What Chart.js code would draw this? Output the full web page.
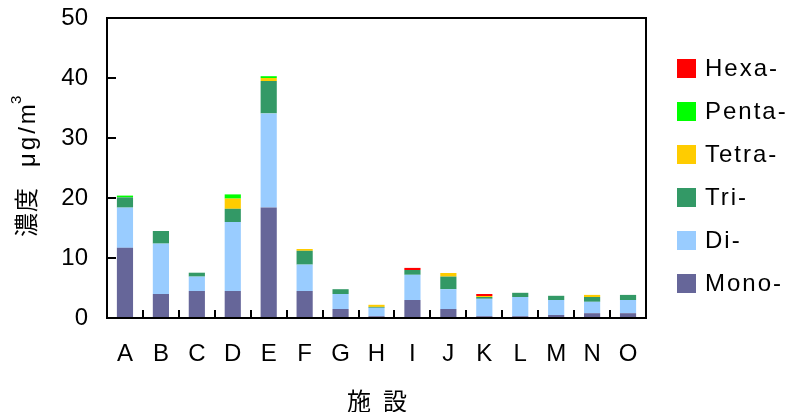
<!DOCTYPE html>
<html>
<head>
<meta charset="utf-8">
<script src="https://cdn.jsdelivr.net/npm/chart.js"></script>
<style>
  html, body { margin: 0; padding: 0; background: #fff; }
  #chart { display: block; }
</style>
</head>
<body>
<canvas id="chart" width="801" height="412"></canvas>
<script>
const categories = ["A", "B", "C", "D", "E", "F", "G", "H", "I", "J", "K", "L", "M", "N", "O"];
const yTicks = [0, 10, 20, 30, 40, 50];

const mono  = [11.7, 4.0, 4.5, 4.5, 18.4, 4.5, 1.5, 0.3, 3.0, 1.5, 0.3, 0.3, 0.5, 0.8, 0.8];
const di    = [6.7, 8.4, 2.4, 11.5, 15.7, 4.4, 2.5, 1.4, 4.2, 3.3, 2.9, 3.2, 2.5, 1.9, 2.2];
const tri   = [1.7, 2.1, 0.65, 2.2, 5.4, 2.3, 0.8, 0.15, 0.8, 2.1, 0.3, 0.7, 0.7, 0.8, 0.85];
const tetra = [0, 0, 0, 1.7, 0.5, 0.3, 0, 0.35, 0, 0.6, 0.17, 0, 0, 0.35, 0];
const penta = [0.3, 0, 0, 0.7, 0.3, 0, 0, 0, 0, 0, 0, 0, 0, 0, 0];
const hexa  = [0, 0, 0, 0, 0, 0, 0, 0, 0.35, 0, 0.33, 0, 0, 0, 0];

const seriesNames = ["Mono-", "Di-", "Tri-", "Tetra-", "Penta-", "Hexa-"];
const seriesColors = ["#666699", "#99CCFF", "#339966", "#FFCC00", "#00FF00", "#FF0000"];
const seriesData = [mono, di, tri, tetra, penta, hexa];

const FONT = "'Liberation Sans', Arial, sans-serif";
const CJK = "'Noto Sans CJK JP', 'Noto Sans CJK SC', sans-serif";

// frame, inward ticks, axis titles and legend
const decorPlugin = {
  id: "decor",
  afterDraw(chart) {
    const ctx = chart.ctx;
    const a = chart.chartArea;
    const x = chart.scales.x;
    const y = chart.scales.y;
    ctx.save();
    ctx.strokeStyle = "#000";
    ctx.lineWidth = 2;
    ctx.strokeRect(a.left, a.top, a.right - a.left, a.bottom - a.top);

    // y ticks (inside)
    yTicks.forEach(v => {
      const py = Math.round(y.getPixelForValue(v));
      ctx.beginPath();
      ctx.moveTo(a.left, py);
      ctx.lineTo(a.left + 9, py);
      ctx.stroke();
    });
    // x ticks between categories (inside)
    for (let i = 0; i < categories.length - 1; i++) {
      const px = Math.round((x.getPixelForValue(i) + x.getPixelForValue(i + 1)) / 2);
      ctx.beginPath();
      ctx.moveTo(px, a.bottom);
      ctx.lineTo(px, a.bottom - 8);
      ctx.stroke();
    }

    // x title
    ctx.fillStyle = "#000";
    ctx.font = "24px " + CJK;
    ctx.textAlign = "center";
    ctx.textBaseline = "middle";
    ctx.letterSpacing = "12px";
    ctx.fillText("施設", 383, 401);

    // y title
    ctx.save();
    ctx.translate(26, 165);
    ctx.rotate(-Math.PI / 2);
    ctx.letterSpacing = "1px";
    ctx.font = "24px " + CJK;
    ctx.textAlign = "right";
    ctx.fillText("濃度", -22, 0);
    ctx.font = "24px " + FONT;
    ctx.textAlign = "left";
    ctx.letterSpacing = "3px";
    ctx.fillText("μg/m", -2, 2);
    ctx.font = "15px " + FONT;
    ctx.letterSpacing = "0px";
    ctx.fillText("3", 61, -9);
    ctx.restore();

    // legend (top item = Hexa-)
    ctx.font = "24px " + FONT;
    ctx.textAlign = "left";
    ctx.textBaseline = "middle";
    ctx.letterSpacing = "2px";
    for (let i = 0; i < seriesNames.length; i++) {
      const k = seriesNames.length - 1 - i;
      const cy = 68 + i * 43;
      ctx.fillStyle = seriesColors[k];
      ctx.fillRect(677, cy - 9, 19, 19);
      ctx.fillStyle = "#000";
      ctx.fillText(seriesNames[k], 705, cy + 1);
    }
    ctx.restore();
  }
};

new Chart(document.getElementById("chart"), {
  type: "bar",
  data: {
    labels: categories,
    datasets: seriesData.map((d, i) => ({
      label: seriesNames[i],
      data: d,
      backgroundColor: seriesColors[i],
      borderWidth: 0,
      barPercentage: 0.45,
      categoryPercentage: 1
    }))
  },
  options: {
    responsive: false,
    devicePixelRatio: 1,
    animation: false,
    layout: { padding: { left: 0, top: 18, right: 155, bottom: 0 } },
    plugins: {
      legend: { display: false },
      tooltip: { enabled: false }
    },
    scales: {
      x: {
        stacked: true,
        grid: { display: false, drawTicks: false },
        border: { display: false },
        ticks: { color: "#000", font: { family: FONT, size: 24 }, padding: 22, maxRotation: 0 },
        afterFit: s => { s.height = 94; s.paddingLeft = 0; s.paddingRight = 0; }
      },
      y: {
        stacked: true,
        min: 0,
        max: 50,
        grid: { display: false, drawTicks: false },
        border: { display: false },
        ticks: { stepSize: 10, color: "#000", font: { family: FONT, size: 24 }, padding: 19 },
        afterFit: s => { s.width = 107; s.paddingTop = 0; s.paddingBottom = 0; }
      }
    }
  },
  plugins: [decorPlugin]
});
</script>
</body>
</html>
